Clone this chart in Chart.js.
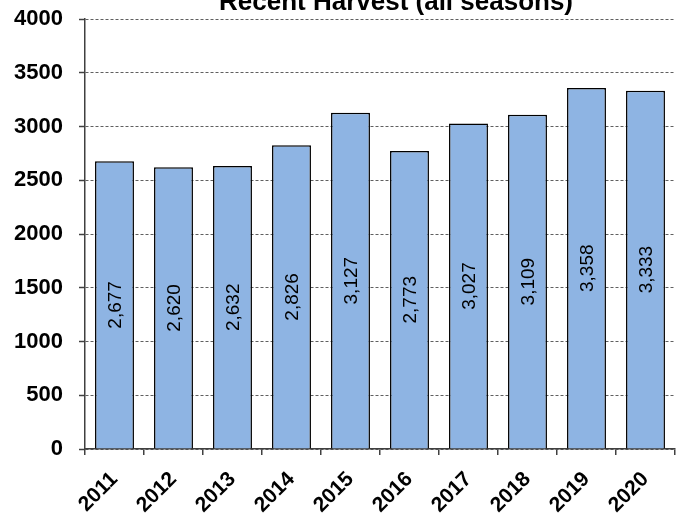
<!DOCTYPE html>
<html>
<head>
<meta charset="utf-8">
<script src="https://cdn.jsdelivr.net/npm/chart.js@4"></script>
<style>
  html, body { margin: 0; padding: 0; background: #fff; }
  #wrap { width: 681px; height: 515px; }
</style>
</head>
<body>
<div id="wrap"><canvas id="harvestChart"></canvas></div>
<script>
const years = ["2011", "2012", "2013", "2014", "2015", "2016", "2017", "2018", "2019", "2020"];
const harvest = [2677, 2620, 2632, 2826, 3127, 2773, 3027, 3109, 3358, 3333];
const yTicks = [0, 500, 1000, 1500, 2000, 2500, 3000, 3500, 4000];
const chartTitle = "Recent Harvest (all seasons)";

const FONT = "'Liberation Sans', Arial, sans-serif";

// title sits partly off the top edge, so draw it by hand
const titlePlugin = {
  id: "cutTitle",
  afterDraw(chart) {
    const ctx = chart.ctx;
    ctx.save();
    ctx.font = "bold 26px " + FONT;
    ctx.fillStyle = "#000";
    ctx.textAlign = "center";
    ctx.textBaseline = "alphabetic";
    ctx.fillText(chartTitle, 396, 10);
    ctx.restore();
  }
};

// value labels rotated inside each bar
const barLabels = {
  id: "barLabels",
  afterDatasetsDraw(chart) {
    const ctx = chart.ctx;
    const meta = chart.getDatasetMeta(0);
    ctx.save();
    ctx.font = "19px " + FONT;
    ctx.fillStyle = "#000";
    ctx.textAlign = "center";
    ctx.textBaseline = "middle";
    meta.data.forEach((bar, i) => {
      const mid = (bar.y + bar.base) / 2;
      ctx.save();
      ctx.translate(bar.x, mid);
      ctx.rotate(-Math.PI / 2);
      ctx.fillText(harvest[i].toLocaleString("en-US"), 0, 1);
      ctx.restore();
    });
    ctx.restore();
  }
};

new Chart(document.getElementById("harvestChart"), {
  type: "bar",
  data: {
    labels: years,
    datasets: [
      {
        data: harvest,
        backgroundColor: "#8EB4E3",
        borderColor: "#000",
        borderWidth: 1.5,
        borderSkipped: "bottom",
        barPercentage: 0.66,
        categoryPercentage: 1.0,
      },
    ],
  },
  options: {
    responsive: true,
    maintainAspectRatio: false,
    animation: false,
    layout: { padding: { top: 19, right: 6, left: 0, bottom: 0 } },
    plugins: {
      legend: { display: false },
      title: { display: false },
      tooltip: { enabled: false },
    },
    scales: {
      x: {
        afterFit(scale) {
          scale.height = 66;
          scale.paddingLeft = 0;
          scale.paddingRight = 0;
        },
        grid: {
          offset: true,
          drawOnChartArea: false,
          drawTicks: true,
          tickLength: 6,
          tickColor: "#404040",
          lineWidth: 1.5,
        },
        border: { color: "#404040", width: 1.5 },
        ticks: {
          color: "#000",
          font: { family: FONT, size: 21, weight: "bold" },
          maxRotation: 45,
          minRotation: 45,
          autoSkip: false,
          padding: 12,
        },
      },
      y: {
        min: 0,
        max: 4000,
        afterFit(scale) {
          scale.width = 85;
          scale.paddingTop = 0;
          scale.paddingBottom = 0;
        },
        afterBuildTicks(scale) {
          scale.ticks = yTicks.map((v) => ({ value: v }));
        },
        grid: {
          color: "#606060",
          lineWidth: 1,
          tickLength: 6,
          tickColor: "#404040",
          tickWidth: 1.5,
        },
        border: { color: "#404040", width: 1.5, dash: [3, 2] },
        ticks: {
          color: "#000",
          font: { family: FONT, size: 22, weight: "bold" },
          padding: 16,
          callback: (v) => String(v),
        },
      },
    },
  },
  plugins: [barLabels, titlePlugin],
});
</script>
</body>
</html>
